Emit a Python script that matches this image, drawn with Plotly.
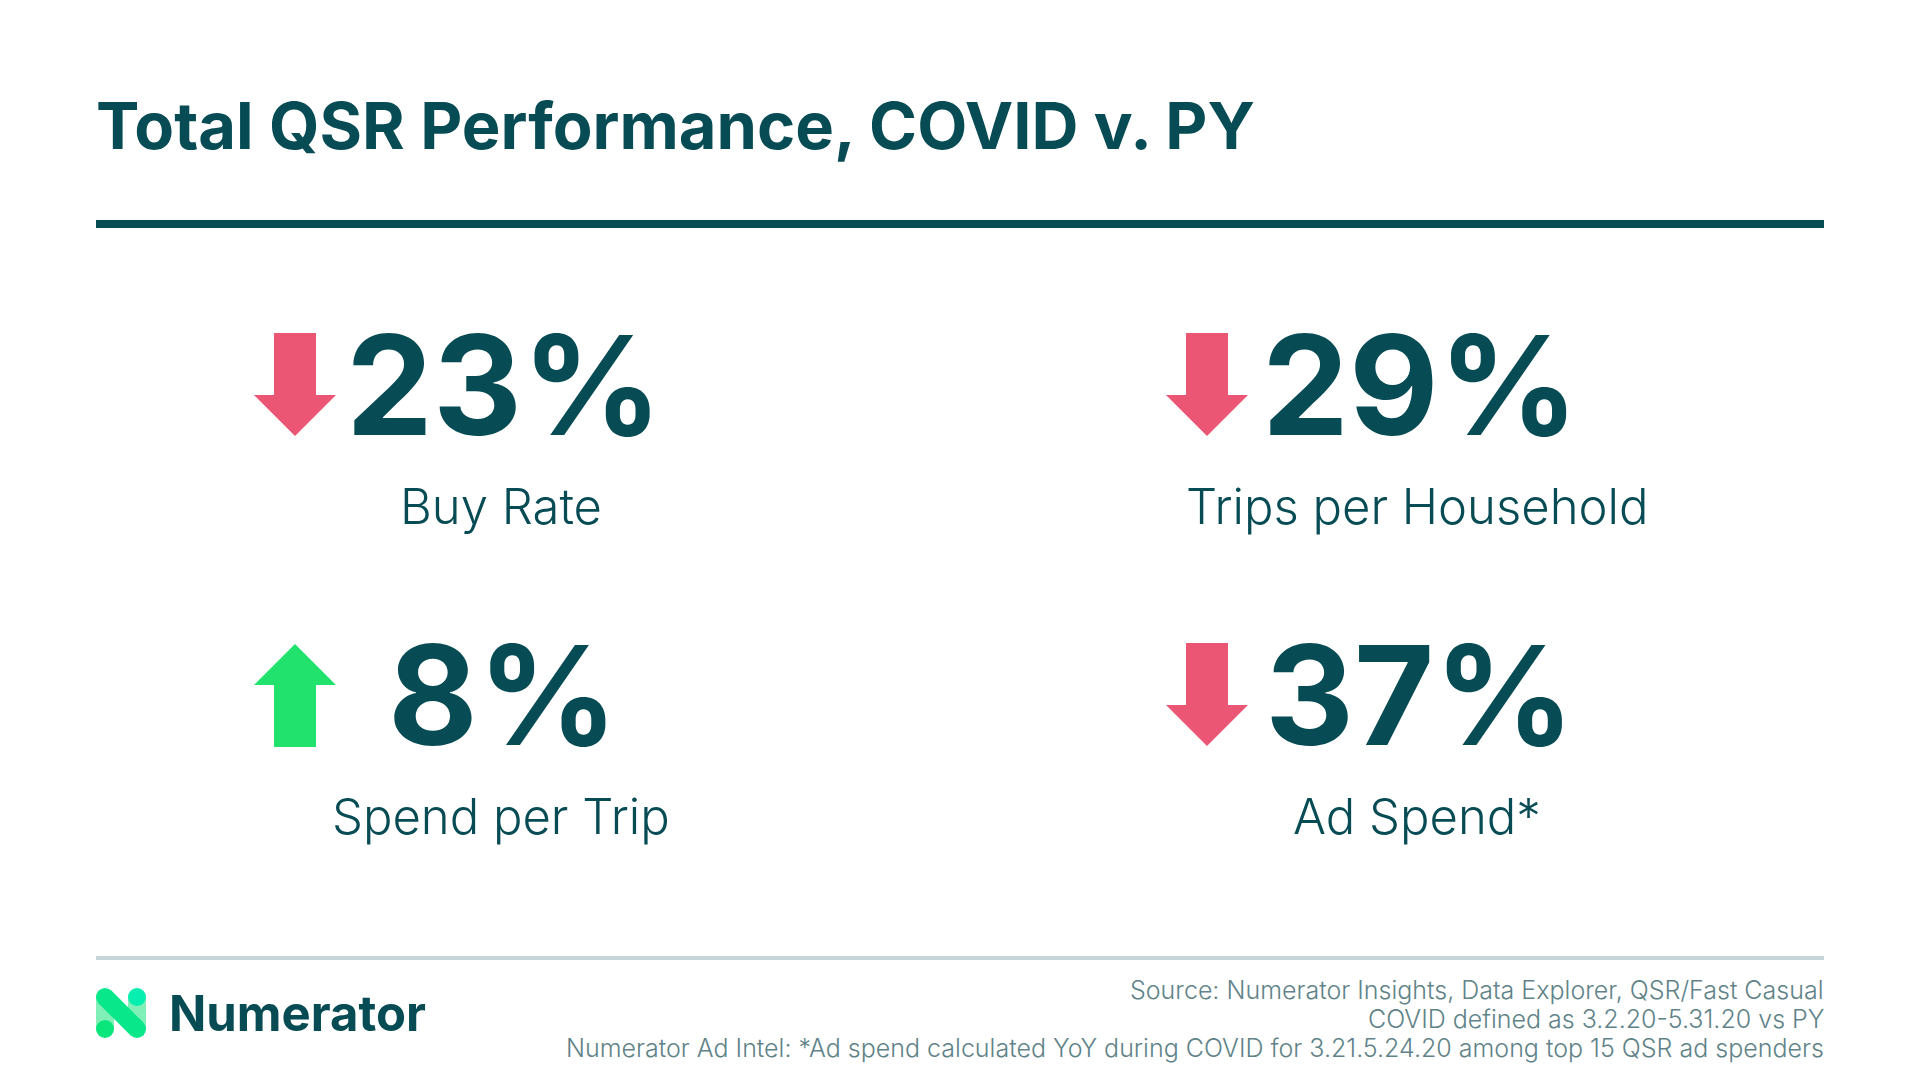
import plotly.graph_objects as go

# KPI data
metrics = ["Buy Rate", "Trips per Household", "Spend per Trip", "Ad Spend*"]
changes = ["23%", "29%", "8%", "37%"]
directions = ["down", "down", "up", "down"]
title_text = "Total QSR Performance, COVID v. PY"
brand = "Numerator"
source_lines = [
    "Source: Numerator Insights, Data Explorer, QSR/Fast Casual",
    "COVID defined as 3.2.20-5.31.20 vs PY",
    "Numerator Ad Intel: *Ad spend calculated YoY during COVID for 3.21.5.24.20 among top 15 QSR ad spenders",
]

DARK = "#074B54"
PINK = "#EA5673"
GREEN = "#22E26E"
GREY = "#5F8388"
RULE = "#C5D5D8"
FONT = "Inter"

# card layout in page pixels
arrow_x = [295, 1207, 295, 1207]
value_x = [504, 1420, 503, 1420]
row_y = [385, 385, 695, 695]
label_x = [501, 1417, 501, 1417]

fig = go.Figure()


def arrow_path(cx, cy, direction):
    # shaft half width 21, head half width 41, total height 103
    s = 1 if direction == "down" else -1
    xs = [cx - 21, cx + 21, cx + 21, cx + 41, cx, cx - 41, cx - 21, cx - 21]
    ys = [cy - s * 52, cy - s * 52, cy + s * 10, cy + s * 10, cy + s * 51, cy + s * 10, cy + s * 10, cy - s * 52]
    return xs, ys


for i, name in enumerate(metrics):
    xs, ys = arrow_path(arrow_x[i], row_y[i], directions[i])
    color = PINK if directions[i] == "down" else GREEN
    fig.add_trace(go.Scatter(x=xs, y=ys, mode="lines", fill="toself", fillcolor=color,
                             line=dict(color=color, width=0), hoverinfo="skip", showlegend=False))
    fig.add_annotation(x=value_x[i], y=row_y[i] - 1, text=changes[i], showarrow=False,
                       font=dict(family=FONT, size=138, color=DARK, weight=700))
    fig.add_annotation(x=label_x[i], y=row_y[i] + 121, text=name, showarrow=False,
                       font=dict(family=FONT, size=49, color=DARK, weight=300))

# title and rules
fig.add_annotation(x=94, y=125, text=title_text, showarrow=False, xanchor="left",
                   font=dict(family=FONT, size=65, color=DARK, weight=700))
fig.add_shape(type="rect", x0=96, x1=1824, y0=220, y1=228, fillcolor=DARK, line_width=0)
fig.add_shape(type="rect", x0=96, x1=1824, y0=956, y1=960, fillcolor=RULE, line_width=0)

# footer
for i, line in enumerate(source_lines):
    fig.add_annotation(x=1826, y=990 + i * 29, text=line, showarrow=False, xanchor="right",
                       font=dict(family=FONT, size=25, color=GREY, weight=300))

# logo mark
fig.add_shape(type="rect", x0=96, x1=114, y0=997, y1=1029, fillcolor="#80F0B8", line_width=0)
fig.add_shape(type="rect", x0=128, x1=146, y0=997, y1=1029, fillcolor="#80F0B8", line_width=0)
fig.add_shape(type="circle", x0=96, x1=114, y0=1020, y1=1038, fillcolor="#0AE67C", line_width=0)
fig.add_shape(type="circle", x0=128, x1=146, y0=988, y1=1006, fillcolor="#06EFB0", line_width=0)
fig.add_shape(type="circle", x0=96, x1=114, y0=988, y1=1006, fillcolor="#08E88A", line_width=0)
fig.add_shape(type="circle", x0=128, x1=146, y0=1020, y1=1038, fillcolor="#08E88A", line_width=0)
fig.add_shape(type="path", path="M 98.6 990.6 L 111.4 990.6 L 143.4 1022.6 L 143.4 1035.4 L 130.6 1035.4 L 98.6 1003.4 Z",
              fillcolor="#08E88A", line_width=0)
fig.add_annotation(x=167, y=1013, text=brand, showarrow=False, xanchor="left",
                   font=dict(family=FONT, size=49, color=DARK, weight=700))

fig.update_layout(
    width=1920, height=1080,
    margin=dict(l=0, r=0, t=0, b=0),
    paper_bgcolor="white", plot_bgcolor="white",
    showlegend=False,
    xaxis=dict(range=[0, 1920], visible=False, fixedrange=True),
    yaxis=dict(range=[1080, 0], visible=False, fixedrange=True),
)

fig.write_html("out.html", config=dict(displayModeBar=False),
               post_script="document.body.style.margin='0';")
